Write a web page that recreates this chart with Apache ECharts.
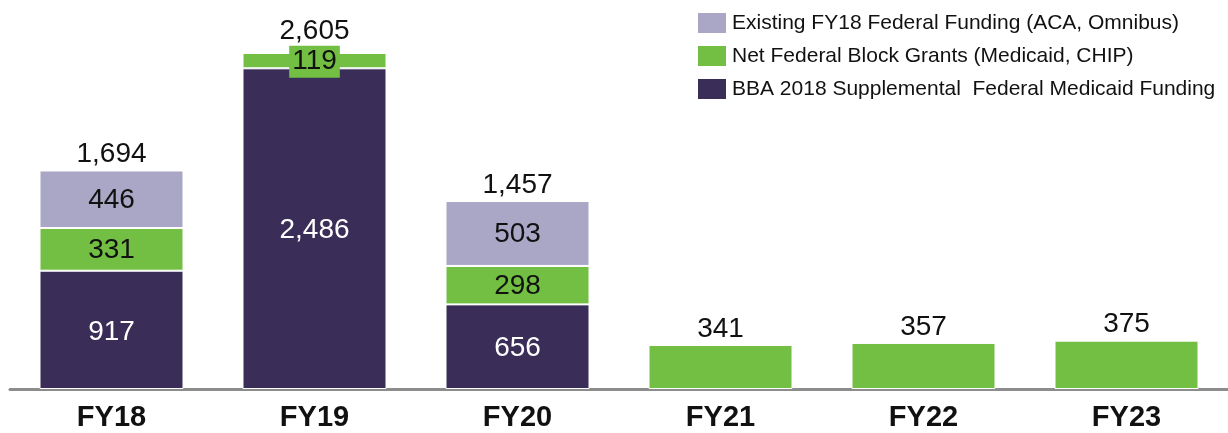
<!DOCTYPE html>
<html>
<head>
<meta charset="utf-8">
<script src="https://cdn.jsdelivr.net/npm/echarts@6/dist/echarts.min.js"></script>
<style>
html, body { margin: 0; padding: 0; background: #fff; }
#chart { width: 1228px; height: 433px; }
</style>
</head>
<body>
<div id="chart"></div>
<script>
// values
var categories = ['FY18', 'FY19', 'FY20', 'FY21', 'FY22', 'FY23'];
var bbaFunding = [917, 2486, 656, null, null, null];
var blockGrants = [331, 119, 298, 341, 357, 375];
var existingFunding = [446, null, 503, null, null, null];
var totals = [1694, 2605, 1457, 341, 357, 375];

var names = [
    'Existing FY18 Federal Funding (ACA, Omnibus)',
    'Net Federal Block Grants (Medicaid, CHIP)',
    'BBA 2018 Supplemental  Federal Medicaid Funding'
];
var colors = ['#a9a7c5', '#72bf44', '#3a2e58'];

var font = 'Arial, "Liberation Sans", sans-serif';

var myChart = echarts.init(document.getElementById('chart'));
myChart.setOption({
    animation: false,
    legend: {
        orient: 'vertical',
        left: 691,
        top: 6,
        itemWidth: 30,
        itemHeight: 22,
        itemGap: 9,
        icon: 'rect',
        data: names,
        textStyle: { fontFamily: font, fontSize: 21, lineHeight: 22, color: '#111' }
    },
    grid: { left: 10, right: 0, top: 2, bottom: 44, containLabel: false },
    xAxis: {
        type: 'category',
        data: categories,
        axisLine: { lineStyle: { color: '#8c8c8c', width: 3 } },
        axisTick: { show: false },
        axisLabel: { fontFamily: font, fontSize: 29, fontWeight: 'bold', color: '#111', margin: 14 }
    },
    yAxis: {
        type: 'value',
        min: 0,
        max: 3000,
        show: false,
        splitLine: { show: false }
    },
    series: [
        {
            name: names[2],
            type: 'bar',
            stack: 'total',
            barWidth: 144,
            data: bbaFunding,
            itemStyle: { color: colors[2], borderColor: '#fff', borderWidth: 1 },
            label: { show: true, position: 'inside', offset: [0, 2], color: '#fff', fontFamily: font, fontSize: 28,
                formatter: function (p) { return p.value.toLocaleString('en-US'); } }
        },
        {
            name: names[1],
            type: 'bar',
            stack: 'total',
            data: blockGrants.map(function (v, i) {
                // FY19 label sits in a green box wider than the thin segment
                if (i === 1) return { value: v, label: { backgroundColor: colors[1], padding: [3, 3, 1, 3] } };
                return v;
            }),
            itemStyle: { color: colors[1], borderColor: '#fff', borderWidth: 1 },
            label: { show: true, position: 'inside', offset: [0, 1], color: '#111', fontFamily: font, fontSize: 28,
                formatter: function (p) { return p.dataIndex < 3 ? p.value : ''; } }
        },
        {
            name: names[0],
            type: 'bar',
            stack: 'total',
            data: existingFunding,
            itemStyle: { color: colors[0], borderColor: '#fff', borderWidth: 1 },
            label: { show: true, position: 'inside', offset: [0, 1], color: '#111', fontFamily: font, fontSize: 28 }
        },
        {
            name: 'Total',
            type: 'scatter',
            symbolSize: 0.1,
            data: totals.map(function (v, i) {
                // FY19 total is pushed up above the green label box
                if (i === 1) return { value: v, label: { offset: [0, -6] } };
                return v;
            }),
            silent: true,
            itemStyle: { opacity: 1, color: '#111' },
            label: { show: true, position: 'top', distance: 2, color: '#111', fontFamily: font, fontSize: 28,
                formatter: function (p) { return p.value.toLocaleString('en-US'); } }
        }
    ]
});
</script>
</body>
</html>
